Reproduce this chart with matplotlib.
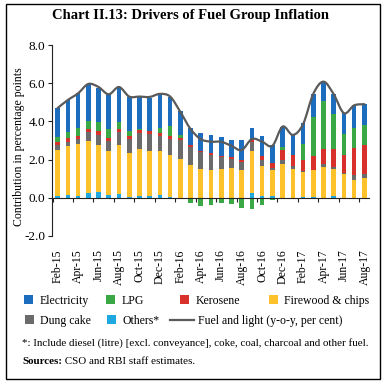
import numpy as np
import matplotlib
matplotlib.use("Agg")
import matplotlib.pyplot as plt
from matplotlib.patches import Rectangle, Patch, PathPatch
from matplotlib.lines import Line2D
from matplotlib.path import Path

plt.rcParams['font.family'] = ['Liberation Serif', 'DejaVu Serif']

months = ['Feb-15', 'Mar-15', 'Apr-15', 'May-15', 'Jun-15', 'Jul-15', 'Aug-15',
          'Sep-15', 'Oct-15', 'Nov-15', 'Dec-15', 'Jan-16', 'Feb-16', 'Mar-16',
          'Apr-16', 'May-16', 'Jun-16', 'Jul-16', 'Aug-16', 'Sep-16', 'Oct-16',
          'Nov-16', 'Dec-16', 'Jan-17', 'Feb-17', 'Mar-17', 'Apr-17', 'May-17',
          'Jun-17', 'Jul-17', 'Aug-17']

others = [0.10, 0.16, 0.12, 0.24, 0.31, 0.16, 0.21, 0.03, 0.12, 0.12, 0.14, 0.05,
          0.00, 0.00, 0.00, 0.00, 0.00, 0.00, 0.00, 0.23, 0.07, 0.09, 0.00, 0.00,
          0.05, 0.03, 0.00, 0.10, 0.00, 0.00, 0.00]
firewood = [2.41, 2.56, 2.72, 2.74, 2.48, 2.31, 2.54, 2.32, 2.44, 2.32, 2.32, 2.18,
            2.02, 1.72, 1.52, 1.46, 1.52, 1.57, 1.43, 2.24, 1.60, 1.37, 1.78, 1.50,
            1.31, 1.40, 1.60, 1.40, 1.22, 0.94, 1.06]
dung_cake = [0.24, 0.22, 0.23, 0.47, 0.52, 0.53, 0.72, 0.73, 0.82, 0.90, 0.78, 0.85,
             1.01, 0.93, 0.88, 0.79, 0.61, 0.47, 0.42, 0.44, 0.30, 0.11, 0.21, 0.14,
             0.05, 0.03, 0.16, 0.09, 0.07, 0.23, 0.18]
kerosene = [0.16, 0.20, 0.19, 0.14, 0.17, 0.14, 0.14, 0.16, 0.17, 0.14, 0.14, 0.13,
            0.09, 0.09, 0.07, 0.08, 0.08, 0.12, 0.14, 0.12, 0.23, 0.24, 0.52, 0.59,
            0.58, 0.75, 0.78, 0.95, 0.96, 1.43, 1.50]
lpg = [0.26, 0.33, 0.40, 0.43, 0.49, 0.45, 0.38, 0.24, 0.05, 0.00, 0.28, 0.55,
       0.17, -0.28, -0.42, -0.40, -0.28, -0.31, -0.56, -0.61, -0.37, -0.10, 0.14, 0.03,
       0.83, 2.04, 2.53, 1.85, 1.09, 1.08, 1.09]
electricity = [1.52, 1.65, 1.81, 1.92, 1.80, 1.83, 1.74, 1.82, 1.66, 1.75, 1.72, 1.50,
               1.27, 0.94, 0.94, 0.95, 0.96, 0.87, 1.04, 0.63, 1.01, 0.96, 1.08, 1.04,
               1.08, 1.19, 1.01, 1.03, 1.09, 1.16, 1.07]
fuel_light = [4.70, 5.12, 5.47, 5.96, 5.80, 5.42, 5.80, 5.30, 5.30, 5.28, 5.44, 5.30,
              4.50, 3.60, 3.07, 2.94, 2.93, 2.72, 2.50, 3.08, 2.94, 2.72, 3.73, 3.29,
              3.85, 5.44, 6.08, 5.42, 4.43, 4.84, 4.90]

series = [('Others*', others, '#1fa8e0'),
          ('Firewood & chips', firewood, '#fdc12b'),
          ('Dung cake', dung_cake, '#6b6b6b'),
          ('Kerosene', kerosene, '#d8312c'),
          ('LPG', lpg, '#3aa945'),
          ('Electricity', electricity, '#1c6dbd')]
line_color = '#5a5a5a'

fig = plt.figure(figsize=(3.87, 3.87), dpi=100)
ax = fig.add_axes([52/387, 1-236/387, (369-52)/387, (236-45)/387])

x = np.arange(len(months))
pos_base = np.zeros(len(months))
neg_base = np.zeros(len(months))
for name, vals, col in series:
    v = np.array(vals)
    p = np.clip(v, 0, None)
    n = np.clip(v, None, 0)
    ax.bar(x, p, 0.45, bottom=pos_base, color=col, lw=0)
    ax.bar(x, n, 0.45, bottom=neg_base, color=col, lw=0)
    pos_base += p
    neg_base += n

# smoothed line, bezier curve through the data points
pts = np.column_stack([x, fuel_light]).astype(float)
verts = [pts[0]]
codes = [Path.MOVETO]
for i in range(len(pts) - 1):
    p0 = pts[max(i - 1, 0)]
    p1 = pts[i]
    p2 = pts[i + 1]
    p3 = pts[min(i + 2, len(pts) - 1)]
    verts += [p1 + (p2 - p0) / 6, p2 - (p3 - p1) / 6, p2]
    codes += [Path.CURVE4] * 3
ax.add_patch(PathPatch(Path(verts, codes), fill=False, ec=line_color, lw=1.6,
                       capstyle='round', joinstyle='round'))

ax.set_xlim(-0.55, 30.45)
ax.set_ylim(-2, 8)
ax.set_yticks([-2, 0, 2, 4, 6, 8])
ax.set_yticklabels(['-2.0', '0.0', '2.0', '4.0', '6.0', '8.0'])
ax.spines['top'].set_visible(False)
ax.spines['right'].set_visible(False)
ax.spines['bottom'].set_position(('data', 0))
ax.spines['bottom'].set_color('#222222')
ax.spines['left'].set_color('#222222')
ax.set_xticks(np.arange(-0.5, 30.6, 2))
ax.set_xticklabels([])
ax.set_xticks(x[::2], minor=True)
ax.set_xticklabels(months[::2], minor=True, rotation=90, fontsize=8.5)
ax.tick_params(axis='x', which='major', length=3, direction='out', color='#222222')
ax.tick_params(axis='x', which='minor', length=0, pad=37)
ax.tick_params(axis='y', length=3, labelsize=9.5, pad=2, color='#222222')

fig.text(19/387, 1-147/387, 'Contribution in percentage points', rotation=90,
         ha='center', va='center', fontsize=8.5)

fig.text(190/387, 1-16/387, 'Chart II.13: Drivers of Fuel Group Inflation',
         ha='center', va='center', fontsize=10.5, fontweight='bold')

# legend, one entry per box so they sit where the original has them
colors = {name: col for name, _, col in series}
entries = [('Electricity', 24, 301), ('LPG', 106, 301), ('Kerosene', 180, 301),
           ('Firewood & chips', 269, 301), ('Dung cake', 25, 321), ('Others*', 107, 321)]
for name, lx, ly in entries:
    h = Patch(facecolor=colors[name], edgecolor='none')
    fig.legend([h], [name], loc='center left', bbox_to_anchor=(lx/387, 1-ly/387),
               frameon=False, fontsize=8.5, borderpad=0, borderaxespad=0,
               handlelength=0.8, handleheight=0.8, handletextpad=0.5)
fig.legend([Line2D([], [], color=line_color, lw=1.6)],
           ['Fuel and light (y-o-y, per cent)'], loc='center left',
           bbox_to_anchor=(170/387, 1-321/387), frameon=False, fontsize=8.5,
           borderpad=0, borderaxespad=0, handlelength=2.0, handletextpad=0.4)

fig.text(22/387, 1-343/387,
         '*: Include diesel (litre) [excl. conveyance], coke, coal, charcoal and other fuel.',
         ha='left', va='center', fontsize=7.9)
src = fig.text(22/387, 1-362/387, 'Sources:', ha='left', va='center', fontsize=7.9,
               fontweight='bold')
ax.annotate(' CSO and RBI staff estimates.', xy=(1, 0.5), xycoords=src,
            ha='left', va='center', fontsize=7.9, annotation_clip=False)

fig.patches.append(Rectangle((5.5/387, 1-379/387), (380-5.5)/387, (379-4)/387,
                             transform=fig.transFigure, fill=False, lw=1.0,
                             ec='black'))

fig.savefig('out.png', dpi=100)
